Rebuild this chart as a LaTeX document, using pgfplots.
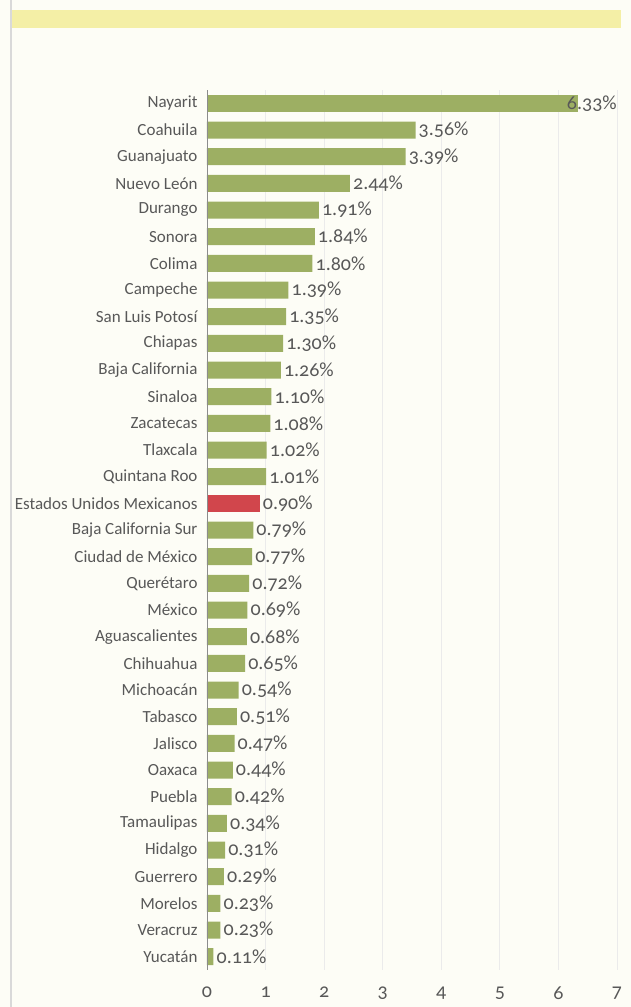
\documentclass[border=0pt]{standalone}
\usepackage{pgfplots}
\pgfplotsset{compat=1.18}
\usepackage{pgfplotstable}
\usepackage{fontspec}
\setmainfont{Carlito}
\newfontfamily\numfont[Numbers=OldStyle]{Carlito}

\definecolor{bargreen}{HTML}{9DAF63}
\definecolor{barred}{HTML}{D1464C}
\definecolor{band}{HTML}{F4EFA6}
\definecolor{bg}{HTML}{FDFDF6}
\definecolor{labelgray}{HTML}{585858}

% y = position from the top, x = percent
\pgfplotstableread{
y x
0 6.33
}\nayarit
\pgfplotstableread{
y x
1 3.56
2 3.39
3 2.44
4 1.91
5 1.84
6 1.80
7 1.39
8 1.35
9 1.30
10 1.26
11 1.10
12 1.08
13 1.02
14 1.01
16 0.79
17 0.77
18 0.72
19 0.69
20 0.68
21 0.65
22 0.54
23 0.51
24 0.47
25 0.44
26 0.42
27 0.34
28 0.31
29 0.29
30 0.23
31 0.23
32 0.11
}\estados
\pgfplotstableread{
y x
15 0.90
}\nacional

\begin{document}
\begin{tikzpicture}[x=1pt,y=1pt]
\path[use as bounding box, fill=bg] (0,0) rectangle (631,1007);
\fill[band] (12,979) rectangle (621,997);
\draw[line width=2pt, black!15] (11,0) -- (11,1007);
\begin{axis}[
    at={(207pt,37pt)}, anchor=south west,
    scale only axis, width=410pt, height=880pt,
    xbar, bar width=17pt, bar shift=0pt,
    xmin=0, xmax=7, ymin=-0.5, ymax=32.5,
    y dir=reverse,
    xtick={0,...,7},
    ytick={0,...,32},
    yticklabels={Nayarit,Coahuila,Guanajuato,Nuevo León,Durango,Sonora,Colima,Campeche,San Luis Potosí,Chiapas,Baja California,Sinaloa,Zacatecas,Tlaxcala,Quintana Roo,Estados Unidos Mexicanos,Baja California Sur,Ciudad de México,Querétaro,México,Aguascalientes,Chihuahua,Michoacán,Tabasco,Jalisco,Oaxaca,Puebla,Tamaulipas,Hidalgo,Guerrero,Morelos,Veracruz,Yucatán},
    yticklabel style={font=\fontsize{17}{19}\selectfont, text=labelgray, xshift=-6pt},
    xticklabel style={font=\numfont\fontsize{20}{22}\selectfont, text=labelgray, yshift=-13pt},
    /pgf/number format/assume math mode=true,
    major tick length=0pt,
    axis line style={draw=none},
    xmajorgrids, grid style={black!8, line width=0.8pt},
    nodes near coords={\pgfmathprintnumber[fixed,precision=2,zerofill]{\pgfplotspointmeta}\%},
    point meta=x,
    every node near coord/.append style={font=\numfont\fontsize{20}{22}\selectfont, text=labelgray, inner sep=1pt, anchor=west, xshift=2pt},
]
\addplot[fill=bargreen, draw=none, every node near coord/.append style={xshift=-14pt}] table[x=x,y=y] {\nayarit};
\addplot[fill=bargreen, draw=none] table[x=x,y=y] {\estados};
\addplot[fill=barred, draw=none] table[x=x,y=y] {\nacional};
\draw[black!45, line width=0.8pt] (axis cs:0,-0.5) -- (axis cs:0,32.5);
\end{axis}
\end{tikzpicture}
\end{document}
